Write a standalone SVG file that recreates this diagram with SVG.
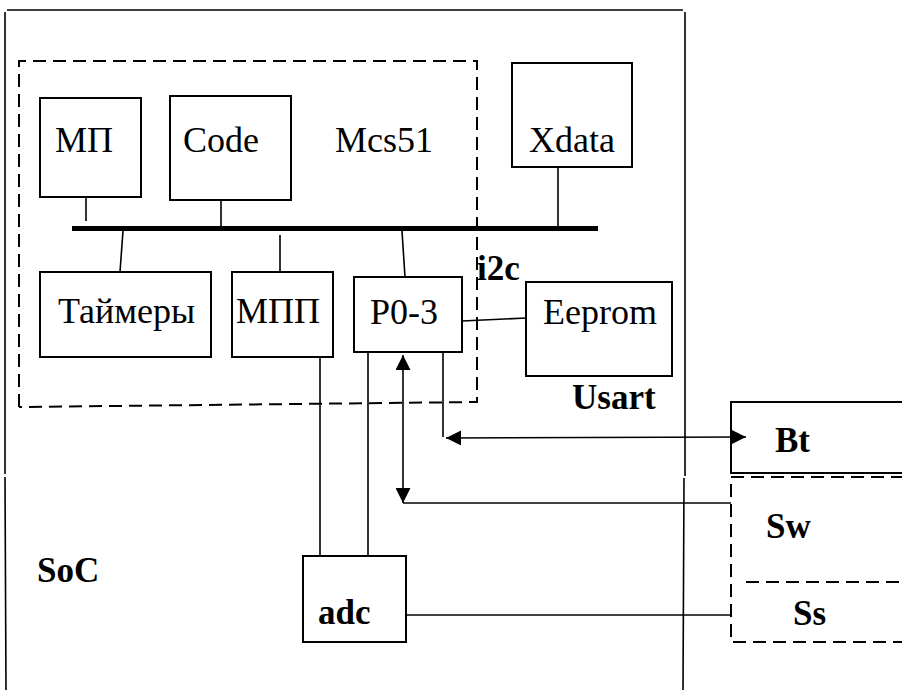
<svg xmlns="http://www.w3.org/2000/svg" width="902" height="691" viewBox="0 0 902 691">
<style>
.box{fill:#fff;stroke:#000;stroke-width:2}
.dash{fill:none;stroke:#000;stroke-width:2;stroke-dasharray:13 7}
.ln{fill:none;stroke:#000;stroke-width:1.6}
text{font-family:'Liberation Serif',Tinos,'Times New Roman',Times,serif;fill:#000}
.t{font-size:36px}
.b{font-size:35px;font-weight:bold}
</style>
<defs>
<marker id="ah" viewBox="0 0 10 10" refX="10" refY="5" markerWidth="15" markerHeight="15" markerUnits="userSpaceOnUse" orient="auto-start-reverse">
<path d="M0,0 L10,5 L0,10 z" fill="#000"/>
</marker>
</defs>
<g id="soc">
<path class="ln" d="M7,10 L683,10 M5,12 L5,474 M5,477 L6,690 M685,12 L685,476 M684,478 L683,690" stroke-width="2"/>
<text class="b" x="37" y="582" font-family="Liberation Serif, serif">SoC</text>
</g>
<g id="mcs51">
<path class="dash" d="M19,407 L19,61 L477,61 L477,402 L19,407"/>
<text class="t" x="335" y="152">Mcs51</text>
</g>
<g id="mp"><rect class="box" x="40" y="98" width="101" height="99"/><text class="t" x="55" y="152">МП</text></g>
<g id="code"><rect class="box" x="170" y="96" width="121" height="104"/><text class="t" x="183" y="152">Code</text></g>
<g id="xdata"><rect class="box" x="512" y="63" width="120" height="104"/><text class="t" x="529" y="152">Xdata</text></g>
<g id="timers"><rect class="box" x="40" y="272" width="171" height="85"/><text class="t" x="58" y="323">Таймеры</text></g>
<g id="mpp"><rect class="box" x="232" y="272" width="101" height="85"/><text class="t" x="236" y="323">МПП</text></g>
<g id="p03"><rect class="box" x="354" y="277" width="108" height="75"/><text class="t" x="370" y="324">P0-3</text></g>
<g id="eeprom"><rect class="box" x="526" y="282" width="146" height="94"/><text class="t" x="543" y="324">Eeprom</text></g>
<g id="adc"><rect class="box" x="303" y="556" width="103" height="86"/><text class="b" x="318" y="624">adc</text></g>
<g id="bt"><path class="box" d="M904,402 L731,402 L731,473 L904,473"/><text class="b" x="775" y="452">Bt</text></g>
<g id="sw"><path class="dash" d="M904,477 L731,477 L731,642 L904,642"/><text class="b" x="766" y="538">Sw</text></g>
<g id="ss"><path class="dash" d="M746,582 L904,582"/><text class="b" x="793" y="625">Ss</text></g>
<g id="labels">
<text class="b" x="477" y="280">i2c</text>
<text class="b" x="572" y="409">Usart</text>
</g>
<g id="connectors">
<line x1="72" y1="228.5" x2="598" y2="228.5" stroke="#000" stroke-width="5"/>
<path class="ln" d="M86,197 L86,221 M221,199 L221,228 M558,167 L558,228 M123,231 L120,272 M280,235 L280,272 M402,231 L405,277"/>
<path class="ln" d="M462,321 L526,318"/>
<path class="ln" d="M320,357 L320,556 M368,352 L368,556"/>
<path class="ln" d="M403,355 L403,503" marker-start="url(#ah)" marker-end="url(#ah)"/>
<path class="ln" d="M403,503 L731,503"/>
<path class="ln" d="M443,352 L443,437"/>
<path class="ln" d="M446,438 L746,437" marker-start="url(#ah)" marker-end="url(#ah)"/>
<path class="ln" d="M406,615 L731,615"/>
</g>
</svg>
